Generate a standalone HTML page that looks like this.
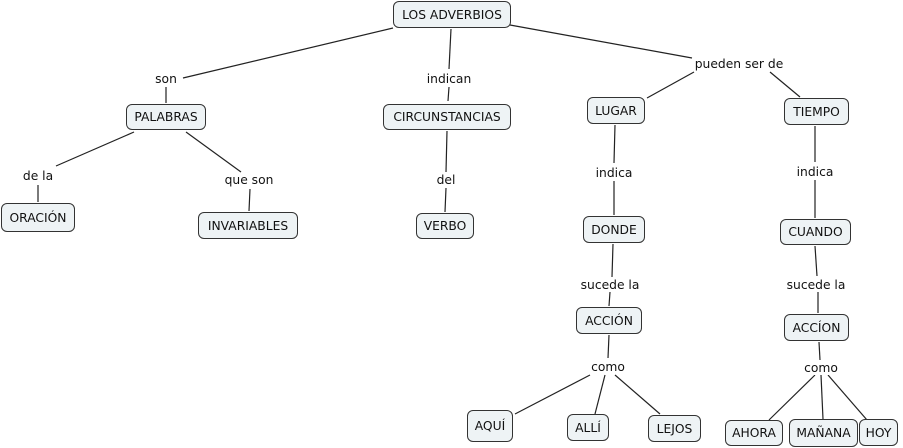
<!DOCTYPE html>
<html><head><meta charset="utf-8"><style>
body{margin:0;width:903px;height:448px;background:#fff;position:relative;overflow:hidden;font-family:"DejaVu Sans","Liberation Sans",sans-serif;font-size:12.3px;color:#111}
.n{position:absolute;box-sizing:border-box;border:1px solid #333;border-radius:6px;background:#eef3f5;display:flex;align-items:center;justify-content:center;white-space:nowrap}
.l{position:absolute;transform:translate(-50%,-50%);white-space:nowrap;background:#fff;padding:0 1px}
svg{position:absolute;left:0;top:0}
</style></head><body>
<svg width="903" height="448" stroke="#222" stroke-width="1.2" fill="none">
<line x1="393" y1="28" x2="183" y2="78"/><line x1="166" y1="87" x2="166" y2="103"/>
<line x1="451" y1="29" x2="449" y2="69"/><line x1="449" y1="87" x2="448" y2="101"/>
<line x1="510" y1="25" x2="692" y2="58"/><line x1="694" y1="72" x2="647" y2="98"/><line x1="770" y1="72" x2="800" y2="97"/>
<line x1="134" y1="132" x2="56" y2="166"/><line x1="38" y1="185" x2="38" y2="202"/>
<line x1="186" y1="132" x2="241" y2="172"/><line x1="250" y1="189" x2="249" y2="211"/>
<line x1="447" y1="131" x2="446" y2="172"/><line x1="446" y1="188" x2="445" y2="212"/>
<line x1="615" y1="125" x2="614" y2="163"/><line x1="614" y1="181" x2="614" y2="215"/>
<line x1="613" y1="244" x2="612" y2="277"/><line x1="610" y1="292" x2="609" y2="306"/>
<line x1="609" y1="335" x2="608" y2="358"/>
<line x1="590" y1="375" x2="515" y2="414"/><line x1="605" y1="375" x2="595" y2="414"/><line x1="615" y1="375" x2="660" y2="414"/>
<line x1="815" y1="126" x2="815" y2="162"/><line x1="815" y1="180" x2="815" y2="218"/>
<line x1="815" y1="246" x2="817" y2="276"/><line x1="818" y1="292" x2="818" y2="313"/>
<line x1="819" y1="342" x2="820" y2="360"/>
<line x1="815" y1="375" x2="769" y2="420"/><line x1="821" y1="375" x2="823" y2="419"/><line x1="828" y1="375" x2="867" y2="420"/>
</svg>
<div class="n" style="left:393px;top:1px;width:118px;height:27px">LOS ADVERBIOS</div>
<div class="n" style="left:126px;top:104px;width:80px;height:26px">PALABRAS</div>
<div class="n" style="left:383px;top:104px;width:128px;height:26px">CIRCUNSTANCIAS</div>
<div class="n" style="left:587px;top:97px;width:58px;height:27px">LUGAR</div>
<div class="n" style="left:784px;top:98px;width:65px;height:27px">TIEMPO</div>
<div class="n" style="left:1px;top:203px;width:74px;height:29px">ORACIÓN</div>
<div class="n" style="left:198px;top:212px;width:100px;height:27px">INVARIABLES</div>
<div class="n" style="left:416px;top:213px;width:58px;height:26px">VERBO</div>
<div class="n" style="left:583px;top:216px;width:62px;height:27px">DONDE</div>
<div class="n" style="left:780px;top:219px;width:71px;height:26px">CUANDO</div>
<div class="n" style="left:576px;top:307px;width:66px;height:27px">ACCIÓN</div>
<div class="n" style="left:784px;top:314px;width:65px;height:27px">ACCÍON</div>
<div class="n" style="left:467px;top:410px;width:46px;height:32px">AQUÍ</div>
<div class="n" style="left:567px;top:414px;width:42px;height:27px">ALLÍ</div>
<div class="n" style="left:648px;top:415px;width:53px;height:27px">LEJOS</div>
<div class="n" style="left:725px;top:420px;width:58px;height:26px">AHORA</div>
<div class="n" style="left:789px;top:419px;width:69px;height:28px">MAÑANA</div>
<div class="n" style="left:859px;top:419px;width:39px;height:27px">HOY</div>
<div class="l" style="left:166px;top:79px">son</div>
<div class="l" style="left:449px;top:79px">indican</div>
<div class="l" style="left:739px;top:64px">pueden ser de</div>
<div class="l" style="left:38px;top:176px">de la</div>
<div class="l" style="left:249px;top:180px">que son</div>
<div class="l" style="left:446px;top:180px">del</div>
<div class="l" style="left:614px;top:173px">indica</div>
<div class="l" style="left:815px;top:172px">indica</div>
<div class="l" style="left:610px;top:285px">sucede la</div>
<div class="l" style="left:816px;top:285px">sucede la</div>
<div class="l" style="left:608px;top:367px">como</div>
<div class="l" style="left:821px;top:368px">como</div>
</body></html>
